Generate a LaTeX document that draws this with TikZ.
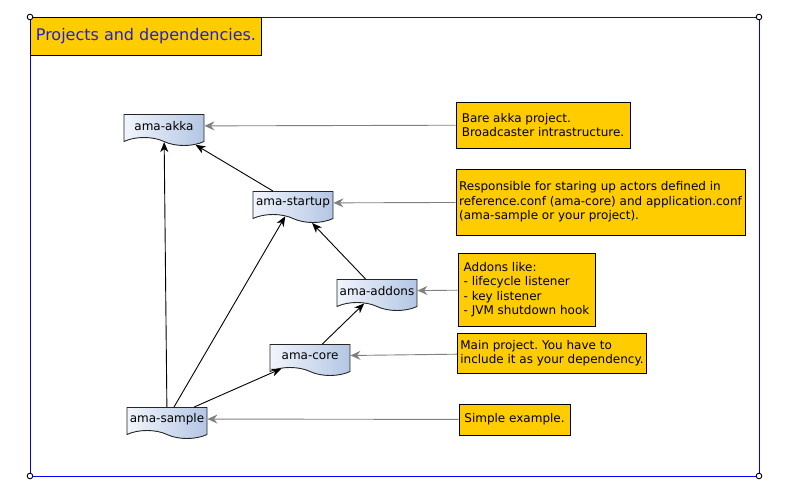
\documentclass[tikz,border=0pt]{standalone}
\usepackage{fontspec}
\setmainfont{DejaVu Sans}
\frenchspacing
\usetikzlibrary{shapes.symbols,arrows.meta}
\definecolor{noteyellow}{RGB}{255,204,0}
\definecolor{frameblue}{RGB}{0,0,255}
\definecolor{titleblue}{RGB}{34,34,204}
\definecolor{docblue}{RGB}{180,198,228}
\definecolor{docwhite}{RGB}{242,245,252}
\definecolor{linkgray}{RGB}{128,128,128}

\tikzset{
  project/.style={tape, tape bend top=none, tape bend bottom=out and in,
    tape bend height=8pt, draw=black!85, line width=0.9pt,
    left color=docwhite, right color=docblue,
    minimum width=80pt, minimum height=31pt, inner sep=2pt,
    font=\fontsize{12}{14}\selectfont},
  note/.style={rectangle, draw, line width=0.9pt, fill=noteyellow, align=left,
    inner sep=3pt, font=\fontsize{12}{14.5}\selectfont},
  dep/.style={-{Stealth[length=10pt,width=8pt,inset=3pt]}, black, line width=0.9pt},
  hint/.style={-{Stealth[length=10pt,width=9pt,inset=3.5pt]}, linkgray, line width=0.9pt}
}

\begin{document}
\begin{tikzpicture}[x=1pt,y=-1pt]
        \useasboundingbox (0,0) rectangle (786,494);

        % frame
        \coordinate (nw) at (30,17);
        \coordinate (ne) at (759,17);
        \coordinate (sw) at (30,476);
        \coordinate (se) at (759,476);
        \draw[frameblue, line width=0.9pt] (nw) rectangle (se);
        \node[rectangle, draw, line width=0.9pt, fill=noteyellow, text=titleblue,
              anchor=north west, minimum width=231pt, minimum height=38pt,
              font=\fontsize{16}{18}\selectfont] (title) at (nw) {Projects and dependencies.};
        \foreach \c in {nw,ne,sw,se} {
            \draw[fill=white, line width=0.9pt] (\c) circle (2.8pt);
        }

        % projects
        \node[project] (akka) at (164,126) {ama-akka};
        \node[project] (startup) at (293,203) {ama-startup};
        \node[project] (addons) at (377,291) {ama-addons};
        \node[project] (core) at (310,356) {ama-core};
        \node[project] (sample) at (167,419) {ama-sample};

        % notes
        \node[note, minimum width=174pt, minimum height=46pt] (noteakka) at (543,125)
            {Bare akka project.\\Broadcaster intrastructure.};
        \node[note, minimum width=289pt, minimum height=66pt] (notestartup) at (600.5,202)
            {Responsible for staring up actors defined in\\reference.conf (ama-core) and application.conf\\(ama-sample or your project).};
        \node[note, minimum width=137pt, minimum height=73pt] (noteaddons) at (526.5,289.5)
            {Addons like:\\- lifecycle listener\\- key listener\\- JVM shutdown hook};
        \node[note, minimum width=188pt, minimum height=40pt] (notecore) at (552,353)
            {Main project. You have to\\include it as your dependency.};
        \node[note, minimum width=111pt, minimum height=31pt] (notesample) at (514.5,419.5)
            {Simple example.};

        % dependencies
        \draw[dep] (startup) -- (akka);
        \draw[dep] (sample) -- (akka);
        \draw[dep] (sample) -- (startup);
        \draw[dep] (sample) -- (core);
        \draw[dep] (core) -- (addons);
        \draw[dep] (addons) -- (startup);

        \foreach \n in {akka,startup,addons,core,sample} {
            \draw[hint] (note\n) -- (\n);
        }
\end{tikzpicture}
\end{document}
